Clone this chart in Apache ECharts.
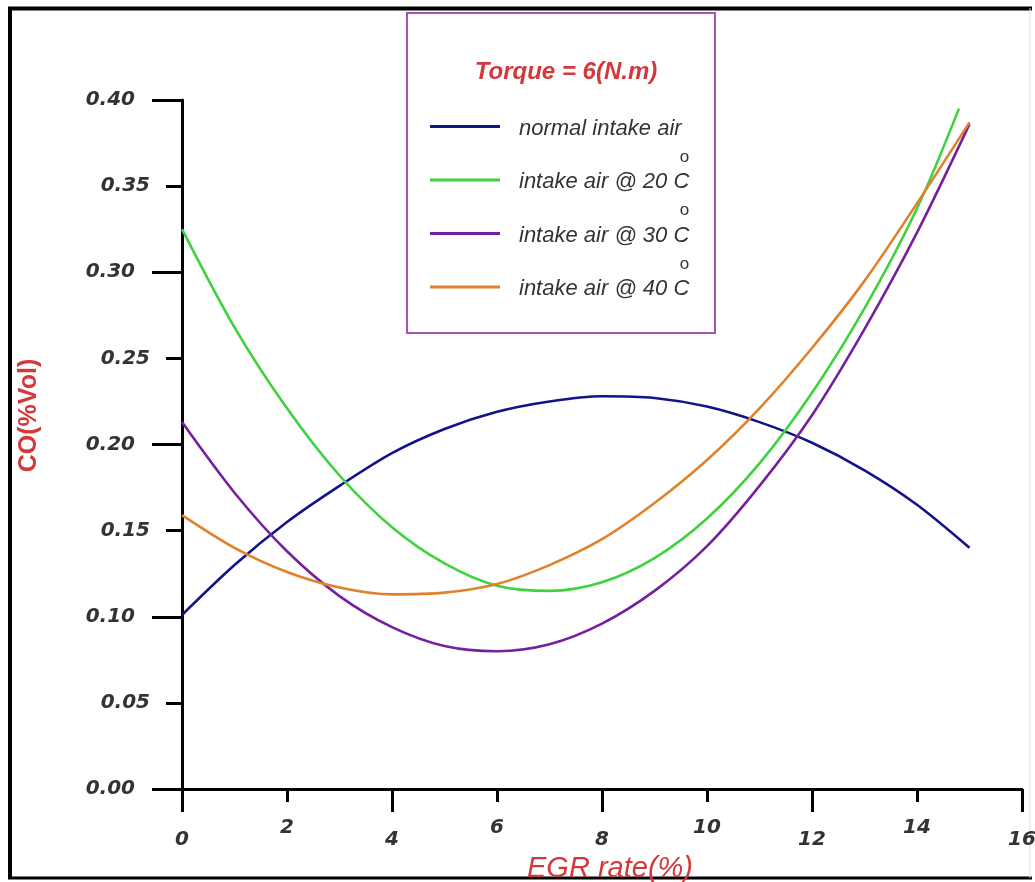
<!DOCTYPE html>
<html lang="en">
<head>
    <meta charset="UTF-8">
    <title>CO vs EGR rate</title>
    <script src="https://cdn.jsdelivr.net/npm/echarts@6/dist/echarts.min.js"></script>
</head>
<body style="height: 100%; margin: 0; background: #fff">
<div id="chart" style="width: 1035px; height: 882px"></div>

<script>
    // values (EGR rate %, CO %Vol)
    let egr = [0, 1, 2, 3, 4, 5, 6, 7, 8, 9, 10, 11, 12, 13, 14, 15];
    let egr20 = [0, 1, 2, 3, 4, 5, 6, 7, 8, 9, 10, 11, 12, 13, 14, 14.8];
    let normalAir = [0.101, 0.130, 0.155, 0.176, 0.195, 0.209, 0.219, 0.225, 0.228, 0.227, 0.222, 0.213, 0.201, 0.185, 0.165, 0.140];
    let air20 = [0.325, 0.268, 0.221, 0.182, 0.152, 0.131, 0.118, 0.115, 0.120, 0.134, 0.157, 0.189, 0.230, 0.279, 0.337, 0.395];
    let air30 = [0.213, 0.172, 0.138, 0.112, 0.094, 0.083, 0.080, 0.084, 0.096, 0.115, 0.141, 0.176, 0.217, 0.267, 0.323, 0.386];
    let air40 = [0.159, 0.140, 0.126, 0.117, 0.113, 0.114, 0.119, 0.130, 0.145, 0.166, 0.191, 0.221, 0.256, 0.295, 0.340, 0.387];
    let names = ['normal intake air', 'intake air @ 20 C', 'intake air @ 30 C', 'intake air @ 40 C'];
    let colors = ['#12128a', '#3fd23f', '#7620a0', '#e0822c'];

    function pairs(xs, ys) {
        let temp = [];
        for (let i = 0; i < xs.length; i++) temp.push([xs[i], ys[i]]);
        return temp;
    }

    let labelFont = {
        fontFamily: 'DejaVu Sans', fontWeight: 'bold', fontStyle: 'italic',
        fontSize: 20, color: '#333'
    };
    let red = '#d3383a';

    let lines = [
        pairs(egr, normalAir), pairs(egr20, air20), pairs(egr, air30), pairs(egr, air40)
    ].map(function (d, i) {
        return {
            name: names[i], type: 'line', data: d, smooth: 0.3, showSymbol: false,
            lineStyle: {width: 2.6, color: colors[i]}, itemStyle: {color: colors[i]}
        };
    });

    let myChart = echarts.init(document.getElementById('chart'));
    let option = {
        animation: false,
        title: {
            text: 'Torque = 6(N.m)', left: 561, top: 55, textAlign: 'center',
            textStyle: {
                fontFamily: 'Liberation Sans Narrow, Liberation Sans', fontStyle: 'italic',
                fontWeight: 'bold', fontSize: 24, color: red
            }
        },
        legend: {
            orient: 'vertical', left: 430, top: 95, padding: 0, itemGap: -8,
            icon: 'rect', itemWidth: 70, itemHeight: 3,
            data: names,
            // degree mark sits on its own short line, right aligned above the "C"
            formatter: function (n) {
                return (n.indexOf('@') >= 0 ? '{d|o}' : '{d| }') + '\n{t|' + n + '}\n{e| }';
            },
            textStyle: {
                rich: {
                    t: {
                        fontFamily: 'Liberation Sans Narrow, Liberation Sans', fontStyle: 'italic',
                        fontSize: 22, lineHeight: 28, color: '#333', padding: [0, 0, 0, 14]
                    },
                    d: {
                        fontFamily: 'Liberation Sans', fontSize: 17, lineHeight: 22, color: '#333',
                        align: 'right', padding: [0, 0, 0, 0]
                    },
                    e: {fontSize: 10, lineHeight: 18}
                }
            }
        },
        grid: {left: 182, right: 13, top: 100, bottom: 93, outerBoundsMode: 'none'},
        xAxis: [{
            type: 'value', min: 0, max: 16, interval: 4,
            name: 'EGR rate(%)', nameLocation: 'middle', nameGap: 61,
            nameTextStyle: {
                fontFamily: 'Liberation Sans', fontStyle: 'italic', fontSize: 29, color: red,
                padding: [0, 0, 0, 16]
            },
            axisLine: {lineStyle: {color: '#000', width: 3}},
            axisTick: {length: 23, lineStyle: {color: '#000', width: 3}},
            minorTick: {show: true, splitNumber: 2, length: 13, lineStyle: {color: '#000', width: 3}},
            splitLine: {show: false},
            axisLabel: Object.assign({margin: 41}, labelFont)
        }, {
            type: 'value', min: 0, max: 16, interval: 2, position: 'bottom',
            axisLine: {show: false}, axisTick: {show: false}, splitLine: {show: false},
            axisLabel: Object.assign({
                margin: 29,
                formatter: function (v) { return v % 4 === 0 ? '' : String(v); }
            }, labelFont)
        }],
        yAxis: [{
            type: 'value', min: 0, max: 0.4, interval: 0.1,
            name: 'CO(%Vol)', nameLocation: 'middle', nameGap: 140,
            nameTextStyle: {
                fontFamily: 'Liberation Sans', fontWeight: 'bold', fontSize: 25, color: red,
                padding: [0, 0, 0, 58]
            },
            axisLine: {lineStyle: {color: '#000', width: 3}},
            axisTick: {length: 30, lineStyle: {color: '#000', width: 3}},
            minorTick: {show: true, splitNumber: 2, length: 16, lineStyle: {color: '#000', width: 3}},
            splitLine: {show: false},
            axisLabel: Object.assign({
                margin: 47,
                formatter: function (v) { return v.toFixed(2); }
            }, labelFont)
        }, {
            type: 'value', min: 0, max: 0.4, interval: 0.05, position: 'left',
            axisLine: {show: false}, axisTick: {show: false}, splitLine: {show: false},
            axisLabel: Object.assign({
                margin: 32,
                formatter: function (v) { return Math.round(v * 100) % 10 === 5 ? v.toFixed(2) : ''; }
            }, labelFont)
        }],
        graphic: [
            {type: 'rect', shape: {x: 407, y: 13, width: 308, height: 320},
                style: {fill: 'none', stroke: '#a453b4', lineWidth: 2}},
            {type: 'line', shape: {x1: 10, y1: 8, x2: 10, y2: 878}, style: {stroke: '#000', lineWidth: 4}},
            {type: 'line', shape: {x1: 8, y1: 8.5, x2: 1032, y2: 8.5}, style: {stroke: '#000', lineWidth: 4}},
            {type: 'line', shape: {x1: 8, y1: 878, x2: 1032, y2: 878}, style: {stroke: '#000', lineWidth: 3}},
            {type: 'line', shape: {x1: 1030, y1: 8, x2: 1030, y2: 878}, style: {stroke: '#ddd', lineWidth: 1}}
        ],
        series: lines
    };
    myChart.setOption(option, true);
</script>
</body>
</html>
